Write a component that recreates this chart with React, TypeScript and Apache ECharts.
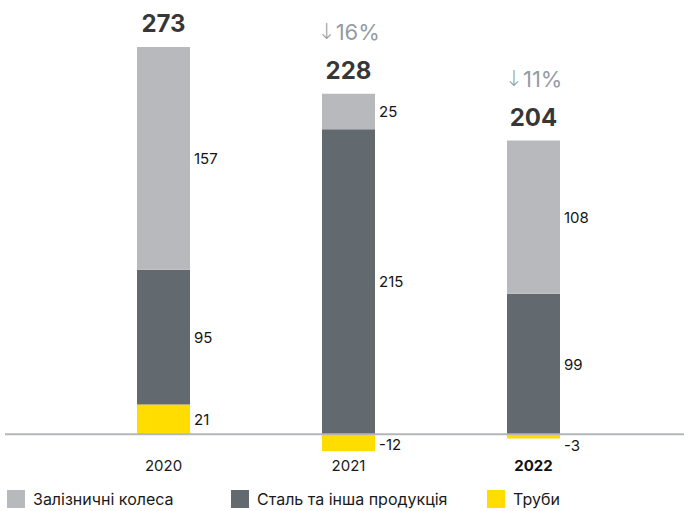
import React, { useEffect, useRef } from "react";
import * as echarts from "echarts";

const categories = ["2020", "2021", "2022"];
const wheels = [157, 25, 108];
const steel = [95, 215, 99];
const pipes = [21, -12, -3];
const seriesNames = ["Залізничні колеса", "Сталь та інша продукція", "Труби"];

const COLORS = ["#b8b9bd", "#62696f", "#ffdd00"];
const FONT = "Inter, 'Noto Sans', sans-serif";

export default function App() {
  const ref = useRef<HTMLDivElement>(null);

  useEffect(() => {
    document.body.style.margin = "0";
    const chart = echarts.init(ref.current!, null, { renderer: "svg" });

    const totals = categories.map((_, i) => wheels[i] + steel[i] + pipes[i]);
    const posTops = categories.map(
      (_, i) => [wheels[i], steel[i], pipes[i]].filter((v) => v > 0).reduce((a, b) => a + b, 0)
    );
    const pct = totals.map((t, i) => (i === 0 ? null : Math.round(((t - totals[i - 1]) / totals[i - 1]) * 100)));

    const valueLabel = () => ({
      show: true,
      position: "right" as const,
      distance: 4,
      fontSize: 15,
      fontFamily: FONT,
      color: "#151515",
    });

    const pipeOffsets = [0, 2, 9];
    const H = 511;
    const gridBottom = 20;

    const option: any = {
      animation: false,
      grid: { left: 71, right: 58, top: 37, bottom: gridBottom, outerBoundsMode: "none", containLabel: false },
      xAxis: {
        type: "category",
        data: categories,
        position: "bottom",
        axisLine: { show: false, onZero: false },
        axisTick: { show: false },
        axisLabel: {
          margin: 24,
          fontSize: 15,
          fontFamily: FONT,
          color: "#1a1a1a",
          formatter: (v: string) => (v === categories[categories.length - 1] ? `{b|${v}}` : v),
          rich: { b: { fontWeight: "bold", fontSize: 15, fontFamily: FONT, color: "#111" } },
        },
      },
      yAxis: { type: "value", min: -40, max: 280, show: false, splitLine: { show: false } },
      legend: seriesNames.map((name, i) => ({
        data: [name],
        left: [7, 231, 487][i],
        top: 490,
        padding: 0,
        icon: "rect",
        itemWidth: 18,
        itemHeight: 18,
        itemGap: 0,
        selectedMode: false,
        textStyle: { fontSize: 16, fontFamily: FONT, color: "#1a1a1a", padding: [0, 0, 0, 3] },
      })),
      series: [
        {
          name: seriesNames[2],
          type: "bar",
          stack: "a",
          barWidth: 53,
          data: pipes.map((v, i) => ({ value: v, label: { offset: [0, pipeOffsets[i]] } })),
          itemStyle: { color: COLORS[2] },
          label: valueLabel(),
        },
        {
          name: seriesNames[1],
          type: "bar",
          stack: "a",
          barWidth: 53,
          data: steel,
          itemStyle: { color: COLORS[1] },
          label: valueLabel(),
        },
        {
          name: seriesNames[0],
          type: "bar",
          stack: "a",
          barWidth: 53,
          data: wheels,
          itemStyle: { color: COLORS[0] },
          label: valueLabel(),
        },
        {
          type: "scatter",
          symbolSize: 0,
          silent: true,
          data: categories.map((c, i) => [c, posTops[i]]),
          label: {
            show: true,
            position: "top",
            distance: 8,
            formatter: (p: any) => {
              const i = p.dataIndex;
              const t = `{t|${totals[i]}}`;
              if (pct[i] === null) return t;
              const arrow = (pct[i] as number) < 0 ? "↓" : "↑";
              return `{a|${arrow}}{p|${Math.abs(pct[i] as number)}%}\n${t}`;
            },
            rich: {
              t: { fontSize: 24, fontWeight: "bold", fontFamily: FONT, color: "#000", lineHeight: 30 },
              p: { fontSize: 22, fontFamily: FONT, color: "#76808a", lineHeight: 48 },
              a: { fontSize: 22, fontFamily: "'DejaVu Sans', sans-serif", fontWeight: 200, color: "#76808a", lineHeight: 48 },
            },
          },
        },
      ],
    };

    chart.setOption(option);
    const y0 = chart.convertToPixel({ yAxisIndex: 0 }, 0) as number;
    chart.setOption({
      xAxis: { offset: y0 - (H - gridBottom) },
      graphic: [
        {
          type: "line",
          shape: { x1: 5, y1: y0, x2: 684, y2: y0 },
          style: { stroke: "#b3b6b9", lineWidth: 2 },
          z: 10,
        },
      ],
    });

    return () => chart.dispose();
  }, []);

  return <div ref={ref} style={{ position: "absolute", left: 0, top: 0, width: 684, height: 511 }} />;
}
